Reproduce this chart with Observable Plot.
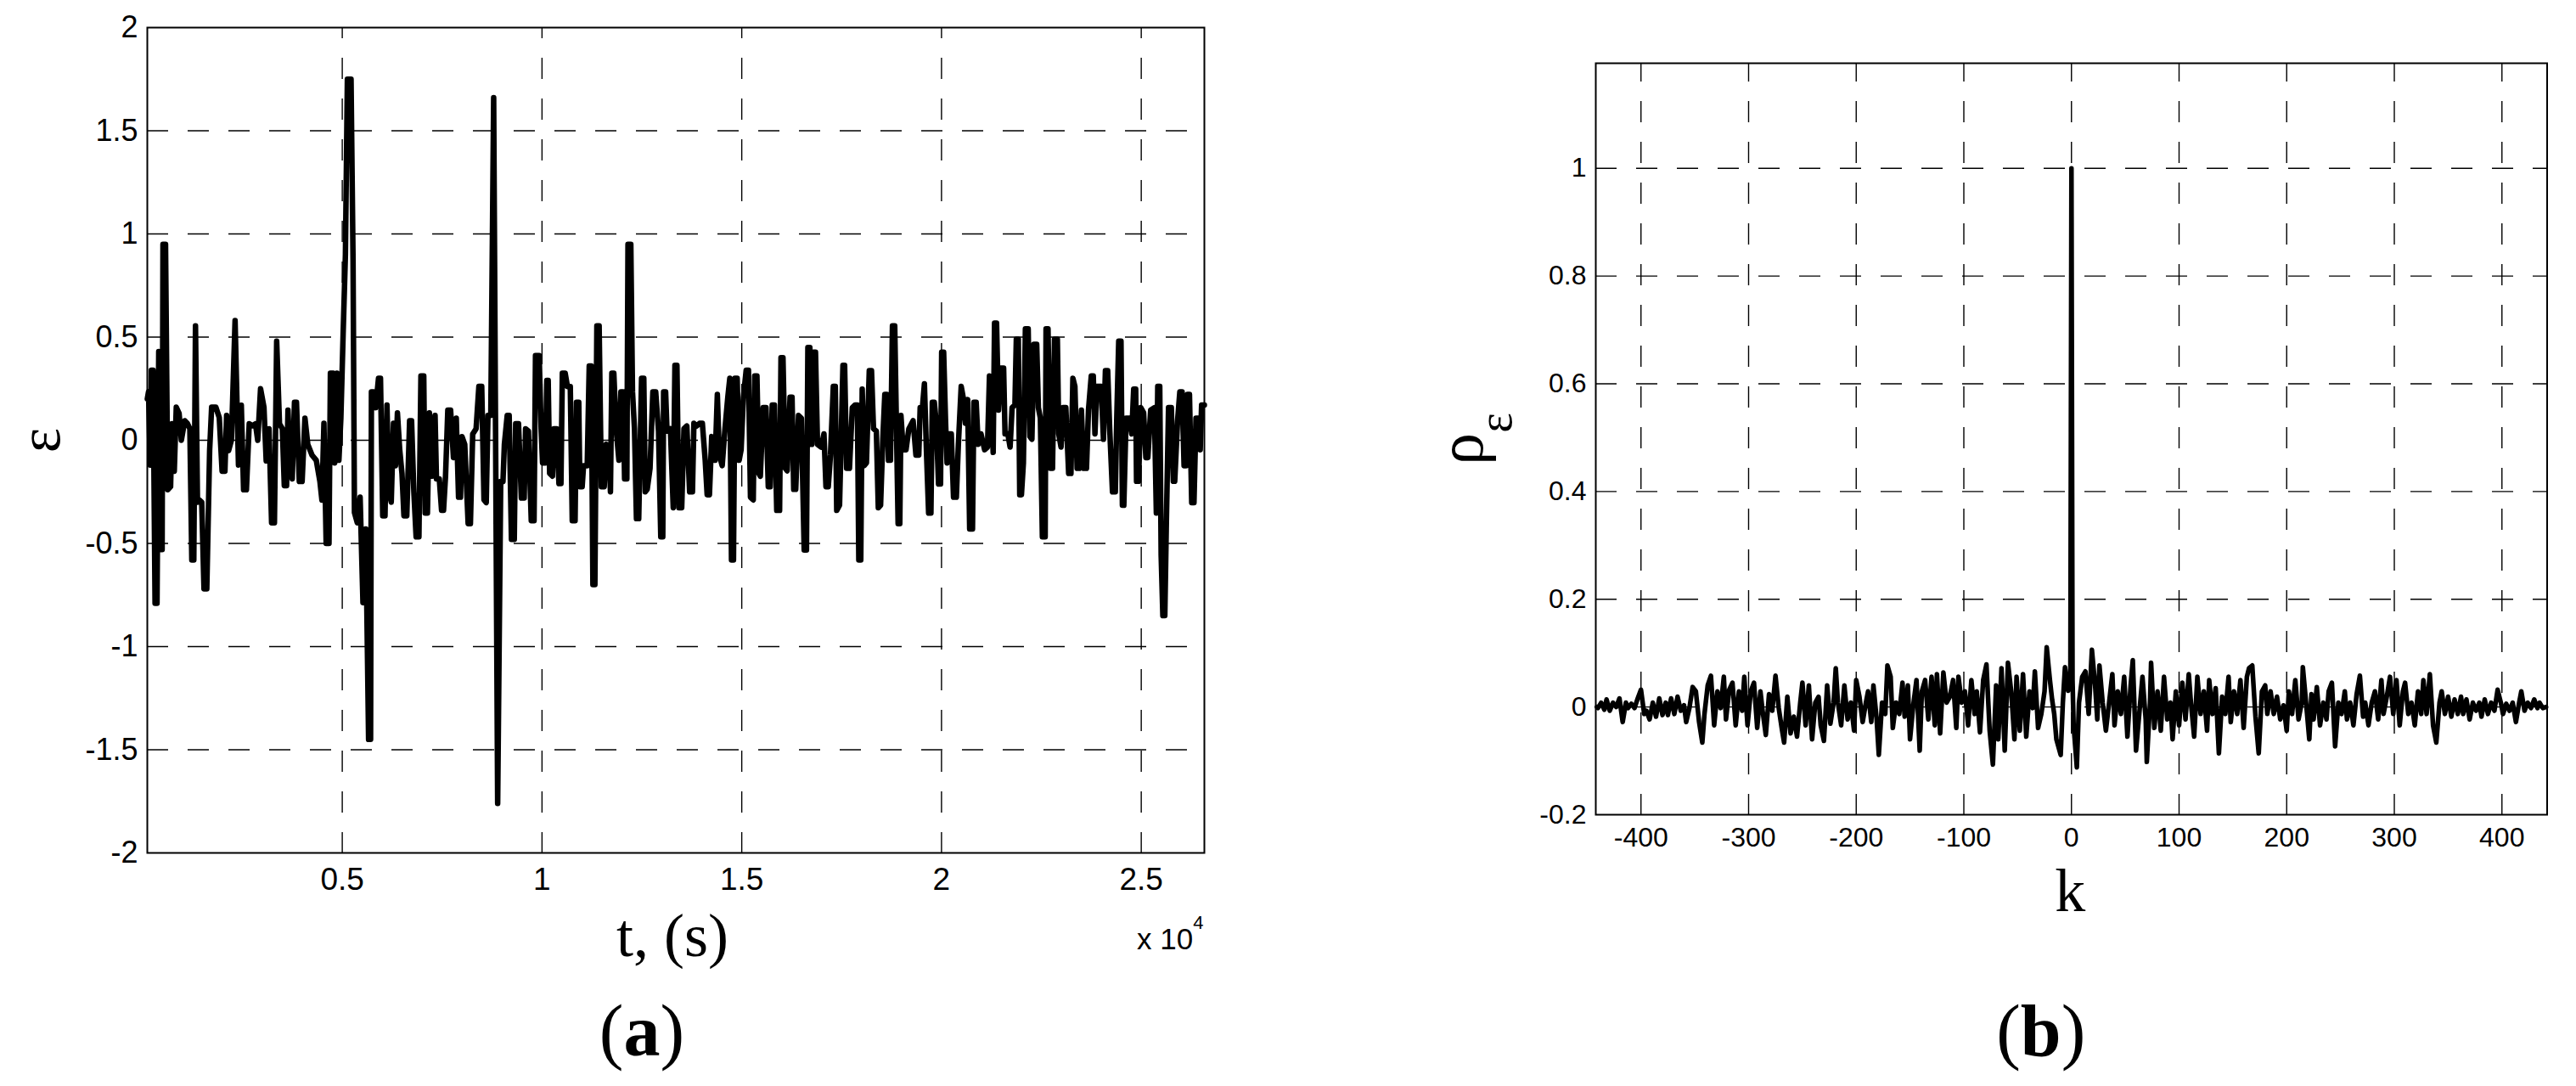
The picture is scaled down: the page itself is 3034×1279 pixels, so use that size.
<!DOCTYPE html>
<html><head><meta charset="utf-8">
<script src="https://cdn.jsdelivr.net/npm/d3@7"></script>
<script src="https://cdn.jsdelivr.net/npm/@observablehq/plot@0.6"></script>
<style>
html,body{margin:0;padding:0;background:#fff;}
#wrap{display:flex;width:3034px;height:1279px;overflow:hidden;}
#wrap svg{flex:0 0 auto;max-width:none;}
</style></head><body><div id="wrap"></div>
<script>
// ---------- Panel (a): residual ε(t), t in seconds ----------
const tDomain = [120, 26580];
const tTicks = [5000, 10000, 15000, 20000, 25000];
const epsTicks = [-2, -1.5, -1, -0.5, 0, 0.5, 1, 1.5, 2];
const epsSeg1 = [[120,0.20],[151,0.235],[193,-0.12],[222,0.34],[264,0.34],[314,-0.79],[363,-0.79],[406,0.43],[434,0.21],[455,-0.53],[491,-0.53],[512,0.95],[576,0.95],[632,-0.24],[703,-0.225],[739,0.08],[795,-0.15],[845,0.16],[916,0.13],[972,0.0],[1057,0.095],[1128,0.08],[1185,0.056],[1234,-0.58],[1284,-0.58],[1326,0.555],[1376,-0.30],[1425,-0.29],[1482,-0.30],[1539,-0.72],[1609,-0.72],[1680,-0.05],[1730,0.16],[1836,0.16],[1921,0.11],[1992,-0.15],[2063,-0.15],[2105,0.12],[2155,-0.05],[2225,0.0],[2317,0.58],[2402,-0.12],[2473,0.17],[2530,-0.24],[2601,-0.24],[2671,0.08],[2756,0.07],[2827,0.08],[2884,0.0],[2955,0.25],[3040,0.16],[3096,-0.10],[3167,0.056],[3231,-0.40],[3302,-0.40],[3358,0.48],[3429,0.08],[3500,0.056],[3549,-0.22],[3606,-0.22],[3641,0.146],[3691,-0.10],[3748,-0.187],[3804,0.184],[3854,0.184],[3925,-0.20],[3995,-0.20],[4066,0.107],[4137,-0.02],[4243,-0.072],[4349,-0.097],[4441,-0.20],[4491,-0.29],[4541,0.082],[4597,-0.50],[4668,-0.50],[4703,0.325],[4774,0.325],[4810,-0.11],[4866,0.325],[4916,-0.097],[4965,0.107],[5022,0.516],[5079,0.90],[5128,1.75],[5220,1.75],[5270,0.874],[5305,-0.35],[5376,-0.40],[5447,-0.276],[5518,-0.787],[5588,-0.43],[5659,-1.45],[5709,-1.45],[5730,0.235],[5787,0.235],[5836,0.158],[5907,0.30],[5957,0.30],[6013,-0.366],[6070,-0.366],[6119,0.171],[6169,-0.25],[6226,-0.30],[6282,0.082],[6332,-0.123],[6381,0.133],[6438,-0.046],[6495,-0.161],[6544,-0.366],[6615,-0.366],[6686,0.095],[6735,0.095],[6792,-0.25],[6849,-0.468],[6919,-0.468],[6969,0.312],[7040,0.312],[7075,-0.353],[7132,-0.353],[7181,0.133],[7252,-0.174],[7323,0.12],[7358,-0.187],[7429,-0.187],[7486,-0.34],[7535,-0.34],[7585,-0.174],[7642,0.146],[7712,0.146],[7783,-0.084],[7854,0.107],[7911,-0.276],[7960,-0.276],[7996,0.018],[8066,-0.02],[8151,-0.404],[8208,-0.404],[8265,0.03],[8350,0.056],[8420,0.261],[8491,0.261],[8548,-0.289],[8604,-0.302],[8647,0.12],[8718,0.12],[8790,1.66],[8890,-1.76]];
const epsSeg2 = [[8966,-0.20],[9023,-0.20],[9058,-0.02],[9129,0.12],[9178,0.12],[9235,-0.48],[9306,-0.48],[9341,0.08],[9412,0.08],[9483,-0.28],[9554,-0.28],[9589,0.056],[9660,0.044],[9731,-0.39],[9801,-0.39],[9837,0.41],[9929,0.41],[9978,0.056],[10014,-0.11],[10085,-0.11],[10120,0.29],[10155,0.29],[10191,-0.16],[10262,-0.174],[10297,0.056],[10368,0.056],[10424,-0.21],[10474,-0.21],[10509,0.325],[10580,0.325],[10637,0.26],[10708,0.26],[10757,-0.39],[10828,-0.39],[10863,0.184],[10920,0.184],[10948,-0.225],[11005,-0.225],[11040,-0.123],[11132,-0.123],[11182,0.36],[11232,0.36],[11274,-0.70],[11324,-0.70],[11373,0.555],[11430,0.555],[11486,-0.225],[11557,-0.225],[11607,-0.02],[11678,-0.033],[11713,-0.25],[11748,0.325],[11798,0.325],[11855,0.056],[11925,-0.097],[11975,0.235],[12032,0.235],[12067,-0.187],[12124,-0.187],[12152,0.95],[12223,0.95],[12265,0.235],[12315,0.056],[12364,-0.38],[12421,-0.38],[12492,0.30],[12548,0.30],[12584,-0.25],[12633,-0.238],[12704,-0.136],[12775,0.235],[12846,0.235],[12917,0.044],[12973,-0.468],[13023,-0.468],[13044,0.235],[13094,0.235],[13129,0.044],[13214,0.056],[13285,-0.327],[13327,0.363],[13377,0.363],[13426,-0.327],[13497,-0.327],[13554,0.056],[13625,0.069],[13695,-0.25],[13766,-0.25],[13802,0.082],[13872,0.069],[13943,0.082],[14014,0.082],[14085,-0.097],[14134,-0.264],[14191,-0.264],[14248,0.018],[14333,-0.097],[14389,0.222],[14439,-0.072],[14510,-0.123],[14580,0.056],[14651,0.209],[14701,0.30],[14743,-0.58],[14793,-0.58],[14828,0.30],[14885,0.30],[14934,-0.097],[14984,-0.046],[15041,0.209],[15111,0.34],[15168,0.34],[15218,-0.276],[15288,-0.289],[15324,0.312],[15380,0.312],[15430,-0.161],[15465,-0.174],[15536,0.158],[15607,0.158],[15664,-0.225],[15713,-0.225],[15763,0.171],[15819,0.171],[15876,-0.34],[15947,-0.34],[15982,0.40],[16032,0.40],[16089,-0.136],[16138,-0.148],[16209,0.209],[16259,0.209],[16301,-0.238],[16351,-0.238],[16421,0.12],[16492,0.107],[16563,-0.532],[16620,-0.532],[16655,0.45],[16704,0.45],[16754,-0.02],[16797,0.427],[16846,0.427],[16896,-0.02],[16988,-0.033],[17058,0.031],[17108,-0.225],[17165,-0.225],[17221,-0.072],[17292,0.261],[17342,0.261],[17377,-0.34],[17448,-0.315],[17533,0.363],[17575,0.363],[17625,-0.136],[17696,-0.136]];
const epsSeg3 = [[17767,0.158],[17838,0.171],[17894,0.171],[17930,-0.58],[17979,-0.58],[18015,0.248],[18064,-0.123],[18121,-0.110],[18192,0.337],[18248,0.337],[18298,0.056],[18369,0.044],[18418,-0.327],[18475,-0.315],[18531,0.005],[18581,0.222],[18631,0.222],[18673,-0.097],[18723,-0.097],[18772,0.555],[18829,0.555],[18864,0.158],[18914,-0.404],[18956,-0.404],[18985,0.120],[19041,-0.046],[19112,-0.046],[19183,0.056],[19289,0.095],[19360,-0.072],[19431,-0.072],[19466,0.158],[19523,0.158],[19572,0.274],[19622,-0.046],[19678,-0.353],[19735,-0.353],[19770,0.184],[19820,0.184],[19870,0.082],[19926,-0.212],[19976,-0.212],[20004,0.427],[20054,0.427],[20103,0.082],[20139,-0.110],[20188,0.031],[20245,0.031],[20301,-0.276],[20372,-0.276],[20422,-0.02],[20493,0.261],[20542,0.209],[20599,0.082],[20655,0.197],[20705,-0.43],[20776,-0.43],[20811,0.184],[20868,0.184],[20917,-0.02],[20988,0.031],[21080,-0.046],[21151,-0.033],[21201,0.312],[21250,0.261],[21293,-0.059],[21328,0.568],[21378,0.568],[21427,0.146],[21484,0.350],[21555,0.350],[21590,0.031],[21661,0.031],[21717,-0.033],[21767,0.158],[21838,0.171],[21873,0.49],[21923,0.49],[21958,-0.264],[22001,-0.264],[22050,-0.110],[22100,0.54],[22170,0.54],[22213,0.018],[22263,0.005],[22312,0.465],[22383,0.465],[22425,0.158],[22475,0.107],[22525,-0.468],[22595,-0.468],[22617,0.54],[22666,0.54],[22723,-0.136],[22779,-0.136],[22829,0.49],[22900,0.49],[22935,0.031],[22992,-0.033],[23041,0.158],[23112,0.158],[23183,-0.161],[23240,-0.161],[23289,0.30],[23339,0.261],[23395,-0.136],[23452,-0.136],[23502,0.146],[23558,-0.136],[23629,-0.136],[23679,0.146],[23749,0.312],[23799,0.312],[23841,0.031],[23891,0.261],[23997,0.261],[24054,0.005],[24103,0.337],[24160,0.337],[24210,0.056],[24280,-0.25],[24351,-0.25],[24387,0.107],[24436,0.48],[24493,0.48],[24528,-0.315],[24564,-0.315],[24620,0.107],[24705,0.107],[24762,0.031],[24811,0.248],[24861,0.248],[24882,-0.199],[24932,-0.199],[24988,0.158],[25059,0.133],[25116,-0.084],[25165,-0.084],[25236,0.146],[25328,0.158],[25378,-0.353],[25413,0.261],[25463,0.261],[25498,-0.557],[25541,-0.85],[25590,-0.85],[25626,-0.43],[25683,0.158],[25753,0.158],[25803,-0.199],[25838,-0.199],[25909,0.095],[25966,0.235],[26022,0.235],[26072,-0.123],[26121,-0.123],[26157,0.222],[26207,0.222],[26263,-0.302],[26320,-0.302],[26370,0.107],[26420,0.107],[26476,-0.046],[26511,0.171],[26580,0.171]];

// ---------- Panel (b): autocorrelation ρε(k) ----------
const kDomain = [-442, 442];
const kTicks = [-400, -300, -200, -100, 0, 100, 200, 300, 400];
const rhoTicks = [-0.2, 0, 0.2, 0.4, 0.6, 0.8, 1];
const rhoLeft = [[-441,0],[-440,-0.002],[-437,0.008],[-434,-0.005],[-432,0.014],[-429,-0.007],[-426,0.008],[-423,0],[-420,0.016],[-417,-0.028],[-414,0.008],[-412,-0.002],[-409,0.006],[-406,-0.002],[-403,0.016],[-400,0.032],[-397,-0.013],[-395,-0.007],[-392,-0.023],[-389,0.008],[-386,-0.018],[-383,0.016],[-380,-0.015],[-377,0.008],[-375,-0.015],[-372,0.016],[-369,-0.013],[-366,0.019],[-363,-0.007],[-360,0.003],[-358,-0.028],[-355,-0.002],[-352,0.037],[-349,0.029],[-346,-0.028],[-343,-0.066],[-341,-0.013],[-338,0.040],[-335,0.058],[-332,-0.034],[-329,0.029],[-326,-0.002],[-323,0.056],[-321,-0.023],[-318,0.032],[-315,0.045],[-312,-0.034],[-309,0.029],[-306,-0.007],[-304,0.056],[-301,-0.034],[-298,0.029],[-295,0.045],[-292,-0.039],[-289,0.029],[-287,-0.007],[-284,-0.052],[-281,0.024],[-278,-0.007],[-275,0.058],[-272,-0.002],[-269,-0.042],[-267,-0.066],[-264,0.019],[-261,-0.049],[-258,-0.018],[-255,-0.055],[-252,0.008],[-250,0.045],[-247,-0.034],[-244,0.040],[-241,-0.060],[-238,0.008],[-235,0.019],[-233,-0.034],[-230,-0.063],[-227,0.040],[-224,-0.031],[-221,0.008],[-219,0.072],[-217,0.008],[-214,-0.034],[-211,0.040],[-208,-0.023],[-205,0.008],[-202,-0.044],[-200,0.050],[-197,0.019],[-194,-0.028],[-191,0.008],[-189,0.029],[-186,-0.028],[-184,0.040],[-181,-0.023],[-179,-0.089],[-176,0.008],[-173,-0.013],[-171,0.077],[-168,0.056],[-166,-0.039],[-163,0.008],[-160,-0.013],[-157,0.045],[-155,-0.018],[-152,0.040],[-150,-0.060],[-147,0.003],[-144,0.050],[-141,-0.081],[-139,0.029],[-136,0.050],[-133,-0.023],[-130,0.056],[-127,-0.034],[-125,0.061],[-122,-0.049],[-119,0.064],[-116,0.008],[-113,0.019],[-110,0.050],[-107,-0.039],[-105,0.056],[-102,0.008],[-99,0.029],[-96,-0.034],[-93,0.050],[-90,-0.013],[-88,0.029],[-85,-0.047],[-82,0.050],[-79,0.079],[-76,-0.044],[-73,-0.107],[-70,0.040],[-68,-0.060],[-65,0.072],[-62,-0.081],[-59,0.082],[-56,0.029],[-53,-0.060],[-51,0.056],[-48,-0.044],[-45,0.061],[-42,-0.055],[-39,0.029],[-36,-0.002],[-34,0.066],[-31,-0.039],[-28,-0.013],[-25,0.029],[-23,0.111],[-20,0.050],[-18,0.014],[-16,-0.013],[-14,-0.060],[-10,-0.089],[-8,0.008],[-6,0.074],[-3,0.03],[-1,0.05]];
const rhoCenter = [[0,1]];
const rhoRight = [[1,0.05],[2,-0.034],[5,-0.112],[7,0.008],[10,0.056],[13,0.066],[16,-0.013],[19,0.106],[22,0.040],[24,-0.023],[26,0.077],[29,0.008],[32,-0.044],[35,0.008],[38,0.061],[40,-0.034],[43,0.029],[46,-0.013],[49,0.056],[52,-0.055],[55,0.040],[57,0.087],[60,-0.081],[63,-0.013],[66,0.056],[69,-0.023],[70,-0.102],[73,0.008],[74,0.082],[77,-0.039],[80,0.029],[83,-0.044],[86,0.056],[89,-0.023],[92,0.008],[94,-0.060],[97,0.029],[100,-0.034],[103,0.045],[106,-0.023],[109,0.061],[111,0.008],[114,-0.055],[117,0.056],[120,-0.013],[123,0.029],[126,-0.044],[128,0.050],[131,-0.013],[134,0.035],[137,-0.086],[140,0.019],[143,-0.013],[146,0.056],[148,-0.028],[151,0.029],[154,-0.013],[157,0.050],[160,-0.039],[163,0.056],[165,0.072],[168,0.077],[171,-0.018],[174,-0.086],[177,0.029],[180,0.040],[182,-0.013],[185,0.029],[188,-0.013],[191,0.019],[194,-0.023],[197,0.003],[200,-0.044],[202,0.029],[205,-0.013],[208,0.050],[211,-0.023],[214,0.008],[215,0.074],[218,0.008],[221,-0.060],[223,0.024],[225,-0.023],[228,0.037],[231,-0.034],[234,0.008],[237,-0.023],[239,0.029],[242,0.045],[245,-0.073],[248,0.008],[251,-0.013],[254,0.029],[256,-0.023],[259,0.008],[262,-0.034],[265,0.024],[268,0.058],[271,-0.018],[273,0.008],[276,-0.034],[279,0.008],[282,0.029],[285,-0.023],[288,0.050],[290,-0.013],[293,0.019],[296,0.056],[299,-0.013],[302,0.050],[305,-0.034],[308,0.029],[310,0.045],[313,-0.013],[316,0.008],[319,-0.034],[322,0.029],[325,-0.013],[327,0.050],[330,-0.013],[333,0.061],[336,-0.034],[339,-0.066],[342,0.008],[344,0.029],[347,-0.013],[350,0.019],[353,-0.018],[356,0.014],[359,-0.013],[362,0.019],[364,-0.013],[367,0.014],[370,-0.023],[373,0.008],[376,-0.007],[379,0.008],[381,-0.018],[384,0.014],[387,-0.013],[390,0.008],[393,-0.007],[396,0.032],[399,0.008],[401,-0.013],[404,0.006],[407,-0.007],[410,0.008],[413,-0.028],[416,0.008],[418,0.029],[421,-0.007],[424,0.008],[427,-0.002],[430,0.014],[433,-0.002],[435,0.008],[438,-0.002],[441,0]];

// ---------- text ----------
const xLabelA = "t, (s)", yLabelA = "ε", expLabelA = "x 10", expPowA = "4", panelA = "(a)";
const xLabelB = "k", yLabelB = "ρ", yLabelBSub = "ε", panelB = "(b)";

const serif = "'Liberation Serif','Times New Roman',serif";
const sans = "'Liberation Sans',Arial,Helvetica,sans-serif";
const gridStyle = {stroke: "black", strokeOpacity: 1, strokeWidth: 1.4, strokeDasharray: "25,23"};

const dataA = [...epsSeg1, ...epsSeg2, ...epsSeg3].map(([t, e]) => ({t, e}));
const dataB = [...rhoLeft, ...rhoCenter, ...rhoRight].map(([k, r]) => ({k, r}));

const plotA = Plot.plot({
  width: 1550, height: 1279,
  marginLeft: 173, marginRight: 132, marginTop: 32, marginBottom: 275,
  style: {background: "white", fontFamily: sans, overflow: "visible"},
  x: {domain: tDomain, label: null},
  y: {domain: [-2, 2], label: null},
  marks: [
    Plot.gridX(tTicks, {...gridStyle, strokeDashoffset: 12}),
    Plot.gridY(epsTicks.filter(d => d > -2 && d < 2), gridStyle),
    Plot.line(dataA, {x: "t", y: "e", stroke: "black", strokeWidth: 6.5, strokeLinejoin: "round", strokeLinecap: "round"}),
    Plot.frame({stroke: "black", strokeWidth: 2}),
    Plot.axisX(tTicks, {tickSize: 0, tickPadding: 17, tickFormat: d => String(d / 1e4), fontSize: 37, label: null}),
    Plot.axisY(epsTicks, {tickSize: 0, tickPadding: 11, tickFormat: d => String(d), fontSize: 36, label: null}),
    Plot.text([xLabelA], {frameAnchor: "bottom", dx: -4, dy: 121, lineAnchor: "bottom", fontSize: 72, fontFamily: serif}),
    Plot.text([expLabelA], {frameAnchor: "bottom-right", textAnchor: "end", dx: -1, dy: 113, lineAnchor: "bottom", fontSize: 35, fontFamily: sans}),
    Plot.text([yLabelA], {frameAnchor: "left", dx: -104, rotate: -90, textAnchor: "middle", lineAnchor: "bottom", fontSize: 70, fontFamily: serif}),
    Plot.text([panelA], {frameAnchor: "bottom", dx: -40, dy: 238, lineAnchor: "bottom", fontSize: 86, fontFamily: serif})
  ]
});

const plotB = Plot.plot({
  width: 1484, height: 1279,
  marginLeft: 329, marginRight: 34.5, marginTop: 74, marginBottom: 320,
  style: {background: "white", fontFamily: sans, overflow: "visible"},
  x: {domain: kDomain, label: null},
  y: {domain: [-0.2, 1.195], label: null},
  marks: [
    Plot.gridX(kTicks, {...gridStyle, strokeDashoffset: 3}),
    Plot.gridY(rhoTicks.filter(d => d > -0.2), gridStyle),
    Plot.line(dataB, {x: "k", y: "r", stroke: "black", strokeWidth: 5.5, strokeLinejoin: "round"}),
    Plot.frame({stroke: "black", strokeWidth: 2}),
    Plot.axisX(kTicks, {tickSize: 0, tickPadding: 15, tickFormat: d => String(d), fontSize: 32, label: null}),
    Plot.axisY(rhoTicks, {tickSize: 0, tickPadding: 11, tickFormat: d => String(d), fontSize: 32, label: null}),
    Plot.text([xLabelB], {frameAnchor: "bottom", dx: -1.5, dy: 113, lineAnchor: "bottom", fontSize: 72, fontFamily: serif}),
    Plot.text([yLabelB], {frameAnchor: "left", dx: -134, rotate: -90, textAnchor: "middle", lineAnchor: "bottom", fontSize: 76, fontFamily: serif}),
    Plot.text([panelB], {frameAnchor: "bottom", dx: -36, dy: 283, lineAnchor: "bottom", fontSize: 86, fontFamily: serif})
  ]
});

const SVGNS = "http://www.w3.org/2000/svg";
function tspan(str, attrs) {
  const ts = document.createElementNS(SVGNS, "tspan");
  for (const [k, v] of Object.entries(attrs)) ts.setAttribute(k, v);
  ts.textContent = str;
  return ts;
}
function fixTexts(svg) {
  for (const t of svg.querySelectorAll("text")) {
    const s = t.textContent;
    if (s === panelA || s === panelB) {
      const letter = s.slice(1, -1);
      t.textContent = "";
      t.appendChild(document.createTextNode("("));
      t.appendChild(tspan(letter, {"font-weight": "bold"}));
      t.appendChild(document.createTextNode(")"));
    } else if (s === expLabelA) {
      t.appendChild(tspan(expPowA, {"font-size": 22, dy: -24}));
    } else if (s === yLabelB) {
      t.appendChild(tspan(yLabelBSub, {"font-size": 56, dy: 34}));
    }
  }
}
fixTexts(plotA);
fixTexts(plotB);
const wrap = document.getElementById("wrap");
wrap.appendChild(plotA);
wrap.appendChild(plotB);
</script></body></html>
